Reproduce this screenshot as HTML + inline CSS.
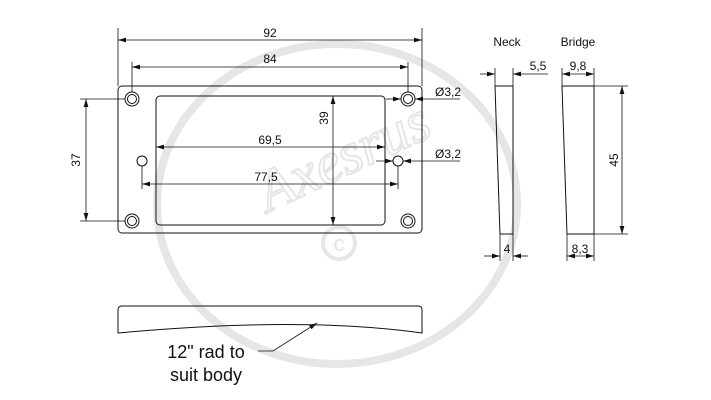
<!DOCTYPE html>
<html><head><meta charset="utf-8"><style>
html,body{margin:0;padding:0;background:#fff;}
svg{display:block;}
text{font-family:"Liberation Sans",sans-serif;fill:#111;}
</style></head><body>
<svg width="711" height="400" viewBox="0 0 711 400" xmlns="http://www.w3.org/2000/svg">
<defs>
<marker id="a" viewBox="0 0 10 6" refX="10" refY="3" markerWidth="8" markerHeight="5" orient="auto-start-reverse" markerUnits="userSpaceOnUse"><path d="M0,0 L10,3 L0,6 z" fill="#111"/></marker>
</defs>
<!-- watermark -->
<g stroke="#e6e6e6" fill="none" stroke-width="8">
<ellipse cx="337" cy="204" rx="180" ry="160"/>
<circle cx="339" cy="243" r="16" stroke-width="4"/>
</g>
<text x="339" y="251" font-size="22" text-anchor="middle" style="fill:#e3e3e3">c</text>
<text x="345" y="175" font-size="58" font-style="italic" text-anchor="middle" transform="rotate(-25 345 160)" style="fill:none;stroke:#e6e6e6;stroke-width:2;font-family:'Liberation Serif',serif">Axesrus</text>

<g stroke="#111" fill="none" stroke-width="1">
<!-- main plate -->
<rect x="118" y="86" width="304" height="147" rx="4"/>
<rect x="156" y="96" width="229" height="129" rx="4"/>
<circle cx="132" cy="99" r="7"/><circle cx="132" cy="99" r="4.5"/>
<circle cx="408" cy="99" r="7"/><circle cx="408" cy="99" r="4.5"/>
<circle cx="132" cy="221" r="7"/><circle cx="132" cy="221" r="4.5"/>
<circle cx="408" cy="221" r="7"/><circle cx="408" cy="221" r="4.5"/>
<circle cx="142" cy="161" r="5"/><circle cx="398" cy="161" r="5"/>
<g stroke-width="0.8">
<!-- 92 -->
<line x1="118" y1="28" x2="118" y2="86"/><line x1="422" y1="28" x2="422" y2="86"/>
<line x1="118" y1="40" x2="422" y2="40" marker-start="url(#a)" marker-end="url(#a)"/>
<!-- 84 -->
<line x1="132" y1="62" x2="132" y2="92"/><line x1="408" y1="62" x2="408" y2="92"/>
<line x1="132" y1="67" x2="408" y2="67" marker-start="url(#a)" marker-end="url(#a)"/>
<!-- 37 -->
<line x1="80" y1="99" x2="125" y2="99"/><line x1="80" y1="221" x2="125" y2="221"/>
<line x1="86" y1="99" x2="86" y2="221" marker-start="url(#a)" marker-end="url(#a)"/>
<!-- 39 -->
<line x1="333" y1="96" x2="333" y2="225" marker-start="url(#a)" marker-end="url(#a)"/>
<!-- 69,5 -->
<line x1="156" y1="147" x2="385" y2="147" marker-start="url(#a)" marker-end="url(#a)"/>
<!-- 77,5 -->
<line x1="142" y1="166" x2="142" y2="189"/><line x1="398" y1="166" x2="398" y2="189"/>
<line x1="142" y1="184" x2="398" y2="184" marker-start="url(#a)" marker-end="url(#a)"/>
<!-- dia top -->
<line x1="386" y1="99" x2="401" y2="99" marker-end="url(#a)"/>
<line x1="460" y1="99" x2="415" y2="99" marker-end="url(#a)"/>
<!-- dia mid -->
<line x1="376" y1="161" x2="393" y2="161" marker-end="url(#a)"/>
<line x1="460" y1="161" x2="403" y2="161" marker-end="url(#a)"/>
</g>
<!-- neck -->
<path d="M495,86 L513,86 L513,234 L500,234 Z"/>
<!-- bridge -->
<path d="M562,86 L594,86 L594,234 L567,234 Z"/>
<g stroke-width="0.8">
<line x1="495" y1="68" x2="495" y2="86"/><line x1="513" y1="68" x2="513" y2="86"/>
<line x1="480" y1="74" x2="495" y2="74" marker-end="url(#a)"/>
<line x1="548" y1="74" x2="513" y2="74" marker-end="url(#a)"/>
<line x1="500" y1="234" x2="500" y2="261"/><line x1="513" y1="234" x2="513" y2="261"/>
<line x1="484" y1="256" x2="500" y2="256" marker-end="url(#a)"/>
<line x1="528" y1="256" x2="513" y2="256" marker-end="url(#a)"/>
<line x1="562" y1="68" x2="562" y2="86"/><line x1="594" y1="68" x2="594" y2="86"/>
<line x1="562" y1="74" x2="594" y2="74" marker-start="url(#a)" marker-end="url(#a)"/>
<line x1="567" y1="234" x2="567" y2="261"/><line x1="594" y1="234" x2="594" y2="261"/>
<line x1="567" y1="256" x2="594" y2="256" marker-start="url(#a)" marker-end="url(#a)"/>
<line x1="594" y1="86" x2="628" y2="86"/><line x1="594" y1="234" x2="628" y2="234"/>
<line x1="622" y1="86" x2="622" y2="234" marker-start="url(#a)" marker-end="url(#a)"/>
</g>
<!-- side profile -->
<path d="M118,333 L118,310 Q118,306 122,306 L418,306 Q422,306 422,310 L422,333 Q300,316 118,333 Z"/>
<path d="M258,351 L273,351 L317,323" stroke-width="0.8" marker-end="url(#a)"/>
</g>
<g font-size="12" text-anchor="middle">
<text x="270" y="37">92</text>
<text x="270" y="63">84</text>
<text x="270" y="144">69,5</text>
<text x="266" y="181">77,5</text>
<text x="84" y="160" transform="rotate(-90 84 160)" dy="-4">37</text>
<text x="331" y="118" transform="rotate(-90 331 118)" dy="-3">39</text>
<text x="448" y="96">Ø3,2</text>
<text x="448" y="158">Ø3,2</text>
<text x="507" y="46">Neck</text>
<text x="578" y="46">Bridge</text>
<text x="538" y="70">5,5</text>
<text x="578" y="70">9,8</text>
<text x="507" y="253">4</text>
<text x="580" y="253">8,3</text>
<text x="618" y="160" transform="rotate(-90 618 160)">45</text>
</g>
<text x="206" y="358" font-size="18" text-anchor="middle">12" rad to</text>
<text x="206" y="381" font-size="18" text-anchor="middle">suit body</text>
</svg>
</body></html>
